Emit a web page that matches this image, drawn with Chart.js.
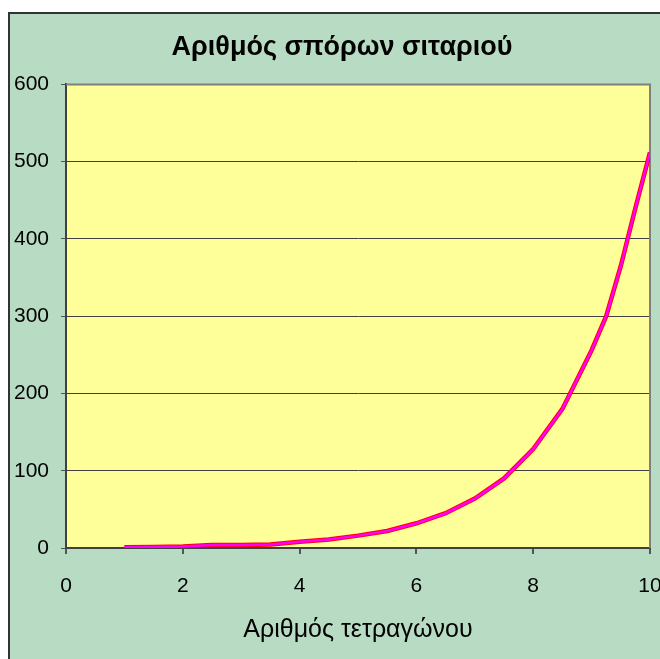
<!DOCTYPE html>
<html>
<head>
<meta charset="utf-8">
<script src="https://cdn.jsdelivr.net/npm/chart.js@4"></script>
<style>
  html, body { margin: 0; padding: 0; background: #fff; overflow: hidden; }
  canvas { display: block; }
</style>
</head>
<body>
<canvas id="grains-chart" width="684" height="690"></canvas>
<script>
// square number on the board and grains of wheat on it
const squares = [1, 1.5, 2, 2.5, 3, 3.5, 4, 4.5, 5, 5.5, 6, 6.5, 7, 7.5, 8, 8.5, 9, 9.25, 9.5, 9.75, 10];
const grains  = [1, 1.4, 2, 4, 4, 4.5, 8, 11, 16, 22, 32, 45, 64, 90, 128, 180, 256, 300, 365, 440, 512];

const xTicks = [0, 2, 4, 6, 8, 10];
const yTicks = [0, 100, 200, 300, 400, 500, 600];

const points = squares.map((s, i) => ({ x: s, y: grains[i] }));
const FONT = "'Liberation Sans', Arial, sans-serif";

// green frame + yellow plot area, gray border on top/right
const frame = {
  id: 'frame',
  beforeDraw(chart) {
    const { ctx, chartArea: a, width, height } = chart;
    ctx.save();
    ctx.fillStyle = '#fff';
    ctx.fillRect(0, 0, width, height);
    ctx.fillStyle = '#b8dcc3';
    ctx.fillRect(9, 13, width - 9, height - 13);
    ctx.strokeStyle = '#333';
    ctx.lineWidth = 2;
    ctx.beginPath();
    ctx.moveTo(9, height);
    ctx.lineTo(9, 13);
    ctx.lineTo(width, 13);
    ctx.stroke();
    ctx.fillStyle = '#ffff99';
    ctx.fillRect(a.left, a.top, a.right - a.left, a.bottom - a.top);
    ctx.restore();
  },
  beforeDatasetsDraw(chart) {
    const { ctx, chartArea: a } = chart;
    ctx.save();
    ctx.strokeStyle = '#808080';
    ctx.lineWidth = 2;
    ctx.beginPath();
    ctx.moveTo(a.left, a.top);
    ctx.lineTo(a.right, a.top);
    ctx.lineTo(a.right, a.bottom);
    ctx.stroke();
    ctx.restore();
  }
};

new Chart(document.getElementById('grains-chart'), {
  type: 'line',
  data: {
    datasets: [
      // magenta core on top of a slightly wider red stroke
      { data: points, borderColor: '#ff00ff', borderWidth: 2.5, pointRadius: 0, tension: 0 },
      { data: points, borderColor: '#ff0000', borderWidth: 4.5, pointRadius: 0, tension: 0 }
    ]
  },
  plugins: [frame],
  options: {
    responsive: false,
    animation: false,
    layout: { padding: { left: 8, top: 13, right: 8, bottom: 47 } },
    plugins: {
      legend: { display: false },
      tooltip: { enabled: false },
      title: {
        display: true,
        text: 'Αριθμός σπόρων σιταριού',
        color: '#000',
        font: { family: FONT, size: 27, weight: 'bold' },
        padding: { top: 18, bottom: 21 }
      }
    },
    scales: {
      x: {
        type: 'linear',
        min: 0,
        max: 10,
        afterBuildTicks: s => { s.ticks = xTicks.map(v => ({ value: v })); },
        grid: { drawOnChartArea: false, drawTicks: true, tickLength: 6, tickColor: '#555', lineWidth: 2 },
        border: { color: '#404040', width: 2 },
        ticks: { color: '#000', padding: 22, maxRotation: 0, font: { family: FONT, size: 21, lineHeight: 1 } },
        title: {
          display: true,
          text: 'Αριθμός τετραγώνου',
          color: '#000',
          font: { family: FONT, size: 25, lineHeight: 1 },
          padding: { top: -1, bottom: 0 }
        }
      },
      y: {
        min: 0,
        max: 600,
        afterBuildTicks: s => { s.ticks = yTicks.map(v => ({ value: v })); },
        afterFit: s => { s.width = 58; },
        grid: { color: '#404040', lineWidth: 1, tickLength: 5, tickColor: '#555' },
        border: { color: '#404040', width: 2 },
        ticks: { color: '#000', padding: 12, font: { family: FONT, size: 21 } }
      },
      y2: {
        position: 'right',
        display: true,
        afterFit: s => { s.width = 26; },
        grid: { display: false },
        border: { display: false },
        ticks: { display: false }
      }
    }
  }
});
</script>
</body>
</html>
